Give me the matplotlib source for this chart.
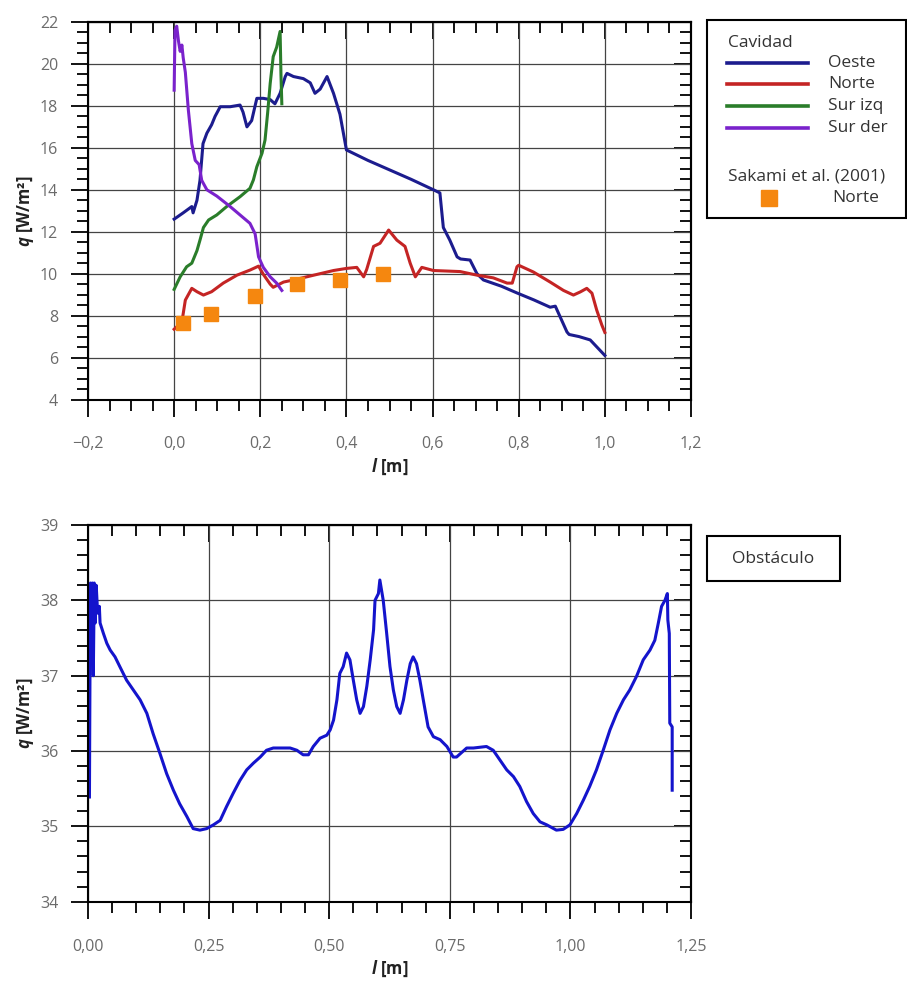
import matplotlib
matplotlib.use("Agg")
import matplotlib.pyplot as plt
from matplotlib.ticker import MultipleLocator, FuncFormatter
from matplotlib.patches import Rectangle
from matplotlib.lines import Line2D

plt.rcParams['font.family'] = ['Open Sans', 'DejaVu Sans']
plt.rcParams['mathtext.fontset'] = 'custom'
plt.rcParams['mathtext.it'] = 'Open Sans:italic:bold'
plt.rcParams['mathtext.rm'] = 'Open Sans:bold'

# ---- Cavidad (top) ----
oeste_x = [0.0, 0.021, 0.041, 0.044, 0.053, 0.06, 0.067, 0.076, 0.087, 0.095, 0.107, 0.13,
           0.153, 0.16, 0.169, 0.18, 0.192, 0.207, 0.223, 0.234, 0.246, 0.258, 0.262, 0.277,
           0.30, 0.316, 0.327, 0.339, 0.355, 0.37, 0.385, 0.40, 0.41, 0.45, 0.50, 0.55, 0.602,
           0.617, 0.625, 0.64, 0.657, 0.665, 0.687, 0.703, 0.718, 0.76, 0.796, 0.835, 0.873,
           0.885, 0.912, 0.917, 0.94, 0.966, 1.0]
oeste_y = [12.6, 12.9, 13.2, 12.9, 13.5, 14.45, 16.2, 16.7, 17.1, 17.5, 17.96, 17.96,
           18.04, 17.7, 17.0, 17.3, 18.36, 18.36, 18.3, 18.1, 18.6, 19.4, 19.55, 19.4,
           19.3, 19.1, 18.6, 18.8, 19.4, 18.6, 17.6, 15.9, 15.8, 15.4, 14.95, 14.5, 14.0,
           13.85, 12.2, 11.6, 10.8, 10.7, 10.65, 10.0, 9.7, 9.4, 9.08, 8.75, 8.4,
           8.45, 7.22, 7.1, 7.0, 6.84, 6.1]

norte_x = [0.0, 0.018, 0.026, 0.041, 0.053, 0.068, 0.087, 0.114, 0.146, 0.176, 0.196, 0.207,
           0.223, 0.23, 0.254, 0.277, 0.308, 0.339, 0.37, 0.40, 0.424, 0.44, 0.447, 0.463,
           0.478, 0.498, 0.517, 0.536, 0.548, 0.56, 0.575, 0.602, 0.664, 0.703, 0.741, 0.773,
           0.785, 0.796, 0.80, 0.834, 0.873, 0.904, 0.927, 0.943, 0.958, 0.97, 0.981, 0.993, 1.0]
norte_y = [7.35, 7.7, 8.74, 9.3, 9.14, 8.98, 9.14, 9.55, 9.93, 10.17, 10.36, 9.97,
           9.5, 9.35, 9.6, 9.7, 9.85, 10.0, 10.15, 10.25, 10.3, 9.85, 10.2, 11.3,
           11.45, 12.08, 11.6, 11.3, 10.5, 9.85, 10.3, 10.15, 10.1, 9.93, 9.8, 9.55,
           9.55, 10.33, 10.4, 10.08, 9.6, 9.2, 8.98, 9.13, 9.3, 9.07, 8.27, 7.55, 7.2]

surizq_x = [0.0, 0.014, 0.029, 0.041, 0.053, 0.06, 0.068, 0.08, 0.099, 0.122, 0.153, 0.176,
            0.184, 0.192, 0.204, 0.211, 0.217, 0.223, 0.23, 0.238, 0.246, 0.248, 0.25]
surizq_y = [9.25, 9.85, 10.33, 10.5, 11.1, 11.6, 12.2, 12.56, 12.8, 13.2, 13.67, 14.07,
            14.47, 15.1, 15.74, 16.37, 17.65, 19.07, 20.35, 20.8, 21.55, 19.5, 18.1]

surder_x = [0.0, 0.002, 0.006, 0.01, 0.014, 0.018, 0.021, 0.026, 0.033, 0.041, 0.049, 0.058,
            0.064, 0.076, 0.099, 0.13, 0.153, 0.176, 0.188, 0.196, 0.207, 0.223, 0.238, 0.25]
surder_y = [18.75, 21.6, 21.8, 21.1, 20.6, 20.9, 20.3, 19.6, 17.8, 16.2, 15.4, 15.2,
            14.45, 14.0, 13.7, 13.2, 12.8, 12.4, 11.9, 10.8, 10.3, 9.85, 9.55, 9.2]

sakami_x = [0.02, 0.086, 0.188, 0.285, 0.384, 0.486]
sakami_y = [7.63, 8.07, 8.93, 9.5, 9.7, 9.98]

# ---- Obstaculo (bottom) ----
obst_x = [0.003, 0.004, 0.005, 0.007, 0.009, 0.011, 0.013, 0.015, 0.017, 0.02, 0.0235,
          0.025, 0.032, 0.039, 0.046, 0.056, 0.066, 0.08, 0.094, 0.108, 0.122, 0.135,
          0.149, 0.163, 0.177, 0.19, 0.205, 0.218, 0.232, 0.246, 0.26, 0.274, 0.287,
          0.301, 0.315, 0.329, 0.343, 0.357, 0.37, 0.384, 0.398, 0.419, 0.433, 0.446,
          0.457, 0.467, 0.481, 0.495, 0.502, 0.509, 0.516, 0.522, 0.529, 0.536, 0.543,
          0.55, 0.557, 0.564, 0.571, 0.578, 0.585, 0.592, 0.595, 0.602, 0.605, 0.612,
          0.619, 0.626, 0.633, 0.64, 0.647, 0.654, 0.661, 0.668, 0.674, 0.681, 0.688,
          0.695, 0.705, 0.716, 0.73, 0.744, 0.757, 0.764, 0.785, 0.799, 0.826, 0.84,
          0.854, 0.868, 0.882, 0.895, 0.909, 0.923, 0.937, 0.951, 0.971, 0.985, 0.999,
          1.013, 1.027, 1.04, 1.054, 1.068, 1.082, 1.096, 1.11, 1.123, 1.137, 1.151,
          1.165, 1.175, 1.182, 1.189, 1.196, 1.201, 1.202, 1.205, 1.206, 1.211, 1.211]
obst_y = [35.39, 36.9, 38.23, 37.4, 38.23, 37.0, 38.23, 37.7, 38.2, 37.83, 37.92,
          37.7, 37.56, 37.43, 37.34, 37.25, 37.12, 36.94, 36.81, 36.68, 36.5, 36.23,
          35.97, 35.7, 35.48, 35.3, 35.13, 34.97, 34.95, 34.97, 35.02, 35.08, 35.26,
          35.44, 35.61, 35.75, 35.84, 35.92, 36.01, 36.04, 36.04, 36.04, 36.01, 35.95,
          35.95, 36.06, 36.17, 36.21, 36.28, 36.41, 36.68, 37.03, 37.12, 37.3, 37.21,
          36.94, 36.68, 36.5, 36.59, 36.86, 37.21, 37.61, 38.0, 38.09, 38.27, 38.0,
          37.57, 37.12, 36.81, 36.59, 36.5, 36.68, 36.94, 37.16, 37.25, 37.16, 36.94,
          36.68, 36.32, 36.19, 36.15, 36.06, 35.92, 35.92, 36.04, 36.04, 36.06, 36.01,
          35.88, 35.75, 35.66, 35.53, 35.33, 35.17, 35.06, 35.02, 34.95, 34.96, 35.02,
          35.17, 35.35, 35.53, 35.75, 36.01, 36.28, 36.5, 36.68, 36.81, 36.99, 37.21,
          37.34, 37.47, 37.69, 37.92, 38.0, 38.09, 37.74, 37.56, 36.37, 36.32, 35.48]

C_OESTE = '#1c1c8e'
C_NORTE = '#c42424'
C_SURIZQ = '#2a7d2a'
C_SURDER = '#7a22cc'
C_SAKAMI = '#f5870f'
C_OBST = '#1414cc'
TICK_C = '#6b6b6b'
LW = 2.2

W, H = 907, 981
fig = plt.figure(figsize=(W / 100, H / 100), dpi=100)


def comma(v, pos, nd):
    s = f"{v:.{nd}f}".replace('.', ',')
    return s.replace('-', '\u2212')


def style_axes(ax, xmaj, xmin, ymaj, ymin, xnd):
    ax.xaxis.set_major_locator(MultipleLocator(xmaj))
    ax.xaxis.set_minor_locator(MultipleLocator(xmin))
    ax.yaxis.set_major_locator(MultipleLocator(ymaj))
    ax.yaxis.set_minor_locator(MultipleLocator(ymin))
    ax.xaxis.set_major_formatter(FuncFormatter(lambda v, p: comma(v, p, xnd)))
    ax.yaxis.set_major_formatter(FuncFormatter(lambda v, p: f"{v:.0f}"))
    ax.grid(True, which='major', color='#444444', lw=0.9)
    for s in ax.spines.values():
        s.set_linewidth(1.5)
    ax.tick_params(which='both', direction='out', width=1.3, colors='black',
                   labelcolor=TICK_C, labelsize=11.5)
    ax.tick_params(which='major', length=12.5)
    ax.tick_params(which='minor', length=8)
    ax.tick_params(axis='x', pad=14)
    ax.tick_params(axis='y', pad=9)
    top = ax.secondary_xaxis('top')
    top.xaxis.set_major_locator(MultipleLocator(xmaj))
    top.xaxis.set_minor_locator(MultipleLocator(xmin))
    top.tick_params(which='both', direction='in', width=1.3, labeltop=False)
    top.tick_params(which='major', length=12.5)
    top.tick_params(which='minor', length=8)
    top.spines['top'].set_linewidth(1.5)
    right = ax.secondary_yaxis('right')
    right.yaxis.set_major_locator(MultipleLocator(ymaj))
    right.yaxis.set_minor_locator(MultipleLocator(ymin))
    right.tick_params(which='both', direction='in', width=1.3, labelright=False)
    right.tick_params(which='major', length=12.5)
    right.tick_params(which='minor', length=8)
    right.spines['right'].set_linewidth(1.5)
    ax.set_xlabel(r'$l$ [m]', fontsize=12, fontweight='bold', color='#222222', labelpad=3)
    ax.set_ylabel(r'$q$ [W/m²]', fontsize=12, fontweight='bold', color='#222222', labelpad=3)


def fx(px):
    return px / W


def fy(py):
    return 1 - py / H


# top axes
ax1 = fig.add_axes([fx(88), fy(399.5), fx(691) - fx(88), fy(22) - fy(399.5)])
ax1.plot(oeste_x, oeste_y, color=C_OESTE, lw=LW)
ax1.plot(norte_x, norte_y, color=C_NORTE, lw=LW)
ax1.plot(surizq_x, surizq_y, color=C_SURIZQ, lw=LW)
ax1.plot(surder_x, surder_y, color=C_SURDER, lw=LW)
ax1.plot(sakami_x, sakami_y, ls='none', marker='s', ms=10.5, color=C_SAKAMI, zorder=5)
ax1.set_xlim(-0.2, 1.2)
ax1.set_ylim(4, 22)
style_axes(ax1, 0.2, 0.05, 2, 0.5, 1)

# bottom axes
ax2 = fig.add_axes([fx(88), fy(901.7), fx(691) - fx(88), fy(525) - fy(901.7)])
ax2.plot(obst_x, obst_y, color=C_OBST, lw=LW)
ax2.set_xlim(0, 1.25)
ax2.set_ylim(34, 39)
style_axes(ax2, 0.25, 0.05, 1, 0.2, 2)

# legend box (top)
TXT = '#333333'
FS = 12.5
fig.patches.append(Rectangle((fx(707), fy(218)), fx(906) - fx(707), fy(20) - fy(218),
                             transform=fig.transFigure, fill=False, ec='black', lw=1.5))
fig.text(fx(728), fy(43), 'Cavidad', fontsize=FS, color=TXT, va='center')
leg_rows = [('Oeste', C_OESTE, 63), ('Norte', C_NORTE, 84),
            ('Sur izq', C_SURIZQ, 106), ('Sur der', C_SURDER, 128)]
for name, col, yy in leg_rows:
    fig.lines.append(Line2D([fx(727), fx(808)], [fy(yy), fy(yy)], color=col, lw=2.6,
                            transform=fig.transFigure))
    fig.text(fx(828), fy(yy), name, fontsize=FS, color=TXT, va='center')
fig.text(fx(728), fy(176), 'Sakami et al. (2001)', fontsize=FS, color=TXT, va='center')
fig.lines.append(Line2D([fx(769)], [fy(198)], ls='none', marker='s', ms=11,
                        color=C_SAKAMI, transform=fig.transFigure))
fig.text(fx(832), fy(198), 'Norte', fontsize=FS, color=TXT, va='center')

# legend box (bottom)
fig.patches.append(Rectangle((fx(707), fy(581)), fx(840) - fx(707), fy(536) - fy(581),
                             transform=fig.transFigure, fill=False, ec='black', lw=1.5))
fig.text(fx(773.5), fy(559), 'Obstáculo', fontsize=FS, color=TXT, va='center', ha='center')

fig.savefig('out.png', dpi=100)
